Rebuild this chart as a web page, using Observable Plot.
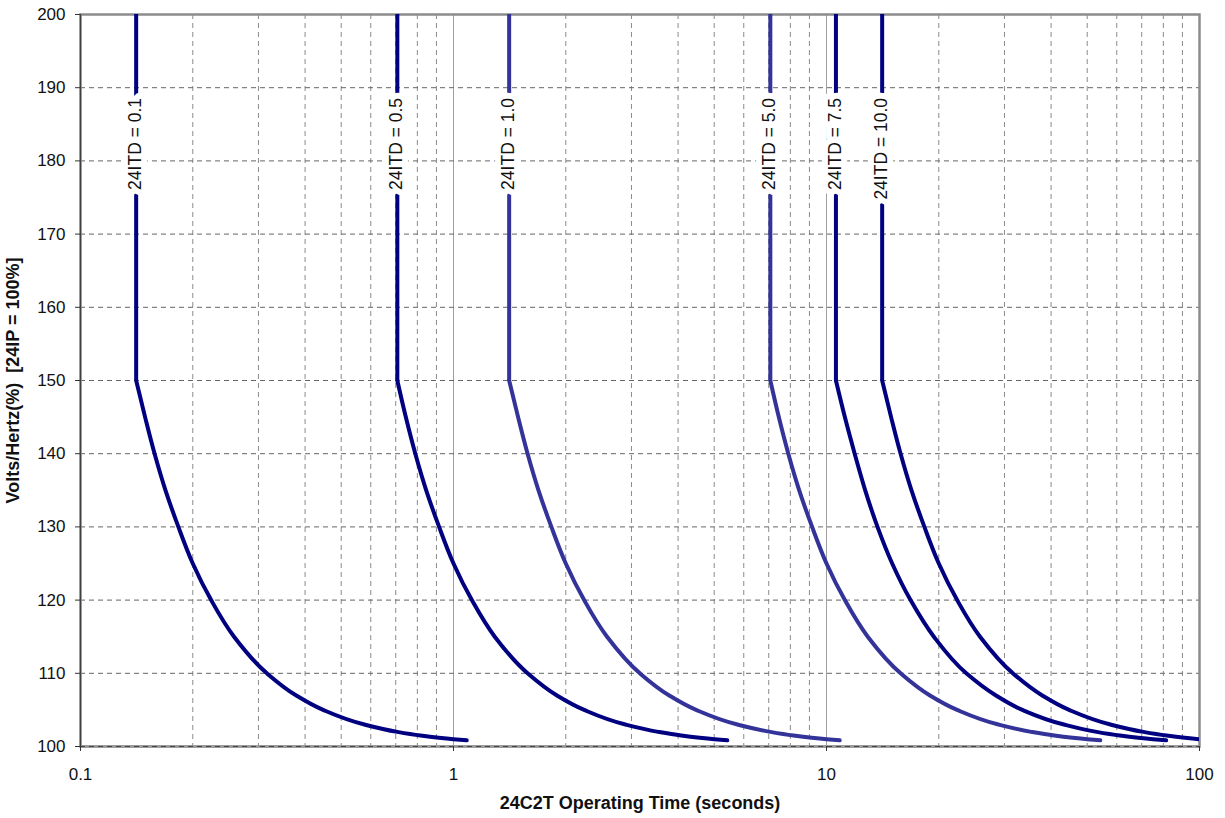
<!DOCTYPE html>
<html>
<head>
<meta charset="utf-8">
<script src="https://cdn.jsdelivr.net/npm/d3@7"></script>
<script src="https://cdn.jsdelivr.net/npm/@observablehq/plot@0.6"></script>
<style>
  html, body { margin: 0; padding: 0; background: #fff; }
  #chart svg { display: block; }
</style>
</head>
<body>
<div id="chart"></div>
<script>
// ---- data ----
const tdLabels = ["0.1", "0.5", "1.0", "5.0", "7.5", "10.0"];
// V/Hz levels (%) at which the operating times were read
const vhzLevels = [150, 145, 140, 135, 130, 125, 120, 115, 110, 107, 105, 103, 102, 101.5, 101.2, 101, 100.85];
// operating times (s) for each 24ITD curve, one value per level above
const timesTD01  = [0.141, 0.149, 0.158, 0.169, 0.183, 0.200, 0.224, 0.258, 0.316, 0.378, 0.447, 0.577, 0.707, 0.816, 0.913, 1.00, 1.085];
const timesTD05  = [0.707, 0.745, 0.79, 0.845, 0.915, 1.00, 1.12, 1.29, 1.58, 1.89, 2.24, 2.89, 3.54, 4.08, 4.57, 5.0, 5.42];
const timesTD10  = [1.41, 1.49, 1.58, 1.69, 1.83, 2.0, 2.24, 2.58, 3.16, 3.78, 4.47, 5.77, 7.07, 8.16, 9.13, 10.0, 10.85];
const timesTD50  = [7.07, 7.45, 7.9, 8.45, 9.15, 10.0, 11.2, 12.9, 15.8, 18.9, 22.4, 28.9, 35.4, 40.8, 45.7, 50, 54.2];
const timesTD75  = [10.6, 11.2, 11.9, 12.7, 13.7, 15.0, 16.8, 19.4, 23.7, 28.4, 33.5, 43.3, 53, 61.2, 68.5, 75, 81.4];
const timesTD100 = [14.1, 14.9, 15.8, 16.9, 18.3, 20.0, 22.4, 25.8, 31.6, 37.8, 44.7, 57.7, 70.7, 81.6, 91.3, 100, 108.5];
const curveTimes = [timesTD01, timesTD05, timesTD10, timesTD50, timesTD75, timesTD100];

const xDomain = [0.1, 100];
const yDomain = [100, 200];
const xMajorTicks = [0.1, 1, 10, 100];
const xMinorTicks = [0.2, 0.3, 0.4, 0.5, 0.6, 0.7, 0.8, 0.9, 2, 3, 4, 5, 6, 7, 8, 9, 20, 30, 40, 50, 60, 70, 80, 90];
const yTicks = [100, 110, 120, 130, 140, 150, 160, 170, 180, 190, 200];
const xTitle = "24C2T Operating Time (seconds)";
const yTitle = "Volts/Hertz(%)  [24IP = 100%]";

// ---- styles ----
const curveColors = {"0.1": "#000080", "0.5": "#000080", "1.0": "#333399", "5.0": "#333399", "7.5": "#000080", "10.0": "#000080"};
const FONT = "'Liberation Sans', Arial, Helvetica, sans-serif";

// ---- tables built from the arrays ----
const curveRows = [];
tdLabels.forEach((td, i) => {
  vhzLevels.forEach((v, j) => curveRows.push({td, v, t: curveTimes[i][j]}));
});
const verticalRows = tdLabels.map((td, i) => ({td, t: curveTimes[i][0], v1: vhzLevels[0], v2: yDomain[1]}));

const chart = Plot.plot({
  width: 1225,
  height: 818,
  marginLeft: 80,
  marginRight: 26,
  marginTop: 14,
  marginBottom: 72,
  style: {fontFamily: FONT, background: "#fff", overflow: "visible"},
  x: {type: "log", domain: xDomain},
  y: {domain: yDomain},
  color: {domain: tdLabels, range: tdLabels.map(d => curveColors[d])},
  marks: [
    // grid
    Plot.ruleX(xMinorTicks, {stroke: "#8a8a8a", strokeWidth: 1, strokeDasharray: "5,4"}),
    Plot.ruleX(xMajorTicks.slice(1, -1), {stroke: "#a0a0a0", strokeWidth: 1}),
    Plot.ruleY(yTicks, {stroke: "#666", strokeWidth: 1, strokeDasharray: "5,4"}),
    // plot-area border
    Plot.frame({stroke: "#8c8c8c", strokeWidth: 2.5}),
    Plot.ruleY(yTicks.slice(0, 1), {stroke: "#9a9a9a", strokeWidth: 2.5}),
    Plot.ruleY(yTicks.slice(0, 1), {stroke: "#444", strokeWidth: 1, strokeDasharray: "5,4"}),
    Plot.ruleX(xMajorTicks.slice(0, 1), {stroke: "#404040", strokeWidth: 1.2}),
    // axes
    Plot.axisX({ticks: xMajorTicks, tickFormat: d => String(d), tickSize: 5, tickPadding: 16,
      fontSize: 17, label: null, stroke: "#333", color: "#111"}),
    Plot.axisY({ticks: yTicks, tickFormat: d => String(d), tickSize: 5, tickPadding: 10,
      fontSize: 17, label: null, stroke: "#333", color: "#111"}),
    // curves
    Plot.ruleX(verticalRows, {x: "t", y1: "v1", y2: "v2", stroke: "td", strokeWidth: 4}),
    Plot.line(curveRows, {x: "t", y: "v", z: "td", stroke: "td", strokeWidth: 4,
      curve: "monotone-y", strokeLinecap: "round", clip: true}),
    // curve labels (white halo cuts the line like the original)
    Plot.text(verticalRows, {x: "t", y: () => 188.6, text: d => "24ITD = " + d.td, rotate: -90,
      textAnchor: "end", fontSize: 17.5, fill: "#111", stroke: "white", strokeWidth: 12,
      strokeLinejoin: "round", dx: -1}),
    // axis titles
    Plot.text([xTitle], {text: d => d, frameAnchor: "bottom", dy: 62, lineAnchor: "bottom",
      textAnchor: "middle", fontSize: 18, fontWeight: "bold", fill: "#111"}),
    Plot.text([yTitle], {text: d => d, frameAnchor: "left", dx: -62, rotate: -90, lineAnchor: "bottom",
      textAnchor: "middle", fontSize: 18, fontWeight: "bold", fill: "#111"})
  ]
});
document.getElementById("chart").appendChild(chart);
</script>
</body>
</html>
